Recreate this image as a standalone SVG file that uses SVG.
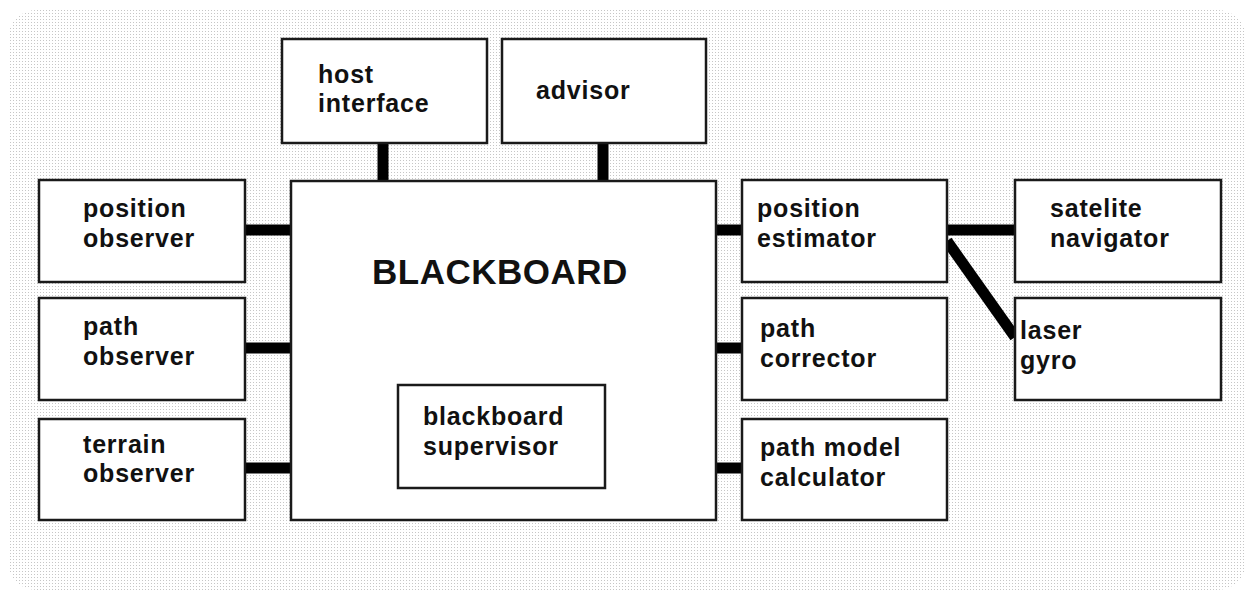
<svg xmlns="http://www.w3.org/2000/svg" width="1253" height="599" viewBox="0 0 1253 599">
  <defs>
    <!-- faint dotted backdrop texture -->
    <pattern id="tex" x="0" y="0" width="3" height="3" patternUnits="userSpaceOnUse">
      <rect x="1" y="1" width="1" height="1" fill="#c6c6c6"/>
    </pattern>
  </defs>
  <style>
    .box { fill: #ffffff; stroke: #1a1a1a; stroke-width: 2.5; }
    .lbl { font-family: "Liberation Sans", Arial, sans-serif; font-weight: bold; font-size: 25px; fill: #111111; letter-spacing: 0.8px; }
    .title { font-family: "Liberation Sans", Arial, sans-serif; font-weight: bold; font-size: 35px; fill: #111111; letter-spacing: 0.5px; }
    .link { stroke: #000000; stroke-width: 11; fill: none; }
  </style>

  <rect x="0" y="0" width="1253" height="599" fill="#ffffff"/>
  <rect x="8" y="10" width="1238" height="580" rx="28" fill="url(#tex)"/>

  <!-- connectors -->
  <g id="connectors">
    <line class="link" x1="383" y1="143" x2="383" y2="181"/>
    <line class="link" x1="603" y1="143" x2="603" y2="181"/>
    <line class="link" x1="245" y1="230" x2="291" y2="230"/>
    <line class="link" x1="245" y1="348" x2="291" y2="348"/>
    <line class="link" x1="245" y1="468" x2="291" y2="468"/>
    <line class="link" x1="716" y1="230" x2="742" y2="230"/>
    <line class="link" x1="716" y1="348" x2="742" y2="348"/>
    <line class="link" x1="716" y1="468" x2="742" y2="468"/>
    <line class="link" x1="947" y1="230" x2="1015" y2="230"/>
    <line class="link" x1="947" y1="241" x2="1015" y2="337" stroke-width="13"/>
  </g>

  <g id="blackboard">
    <rect class="box" x="291" y="181" width="425" height="339"/>
    <text class="title" x="372" y="284">BLACKBOARD</text>
  </g>

  <g id="blackboard-supervisor">
    <rect class="box" x="398" y="385" width="207" height="103"/>
    <text class="lbl" x="423" y="425">blackboard</text>
    <text class="lbl" x="423" y="455">supervisor</text>
  </g>

  <g id="host-interface">
    <rect class="box" x="282" y="39" width="205" height="104"/>
    <text class="lbl" x="318" y="83">host</text>
    <text class="lbl" x="318" y="112">interface</text>
  </g>

  <g id="advisor">
    <rect class="box" x="502" y="39" width="204" height="104"/>
    <text class="lbl" x="536" y="99">advisor</text>
  </g>

  <g id="position-observer">
    <rect class="box" x="39" y="180" width="206" height="102"/>
    <text class="lbl" x="83" y="217">position</text>
    <text class="lbl" x="83" y="247">observer</text>
  </g>

  <g id="path-observer">
    <rect class="box" x="39" y="298" width="206" height="102"/>
    <text class="lbl" x="83" y="335">path</text>
    <text class="lbl" x="83" y="365">observer</text>
  </g>

  <g id="terrain-observer">
    <rect class="box" x="39" y="419" width="206" height="101"/>
    <text class="lbl" x="83" y="453">terrain</text>
    <text class="lbl" x="83" y="482">observer</text>
  </g>

  <g id="position-estimator">
    <rect class="box" x="742" y="180" width="205" height="102"/>
    <text class="lbl" x="757" y="217">position</text>
    <text class="lbl" x="757" y="247">estimator</text>
  </g>

  <g id="path-corrector">
    <rect class="box" x="742" y="298" width="205" height="102"/>
    <text class="lbl" x="760" y="337">path</text>
    <text class="lbl" x="760" y="367">corrector</text>
  </g>

  <g id="path-model-calculator">
    <rect class="box" x="742" y="419" width="205" height="101"/>
    <text class="lbl" x="760" y="456">path model</text>
    <text class="lbl" x="760" y="486">calculator</text>
  </g>

  <g id="satelite-navigator">
    <rect class="box" x="1015" y="180" width="206" height="102"/>
    <text class="lbl" x="1050" y="217">satelite</text>
    <text class="lbl" x="1050" y="247">navigator</text>
  </g>

  <g id="laser-gyro">
    <rect class="box" x="1015" y="298" width="206" height="102"/>
    <text class="lbl" x="1020" y="339">laser</text>
    <text class="lbl" x="1020" y="369">gyro</text>
  </g>
</svg>
